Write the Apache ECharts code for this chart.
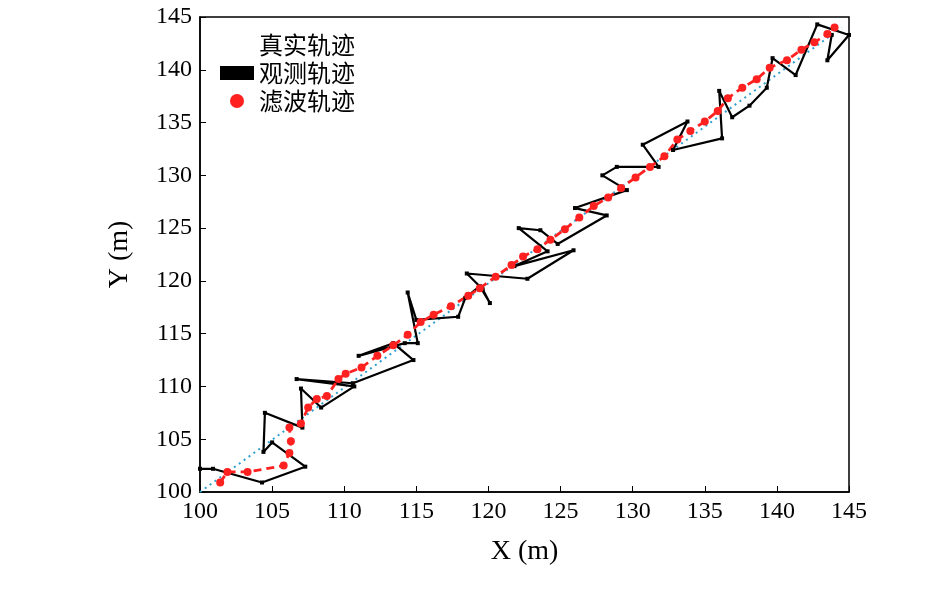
<!DOCTYPE html>
<html>
<head>
<meta charset="utf-8">
<script src="https://cdn.jsdelivr.net/npm/echarts@6/dist/echarts.min.js"></script>
<style>html,body{margin:0;padding:0;background:#fff}#chart{width:945px;height:604px}</style>
</head>
<body>
<div id="chart"></div>
<script>
const truePath = [[100, 100], [144.5, 144]]

const observedPath = [
  [100, 102.2], [100.9, 102.2], [104.3, 100.9], [107.3, 102.4], [105, 104.7],
  [104.4, 103.8], [104.5, 107.5], [107.1, 106.1], [107, 109.8], [108.4, 108.0],
  [110.7, 110.0], [106.7, 110.7], [110.6, 110.3], [114.8, 112.5], [113.4, 114.1],
  [111, 112.9], [114.2, 114.1], [115.1, 114.1], [114.4, 118.9], [115.0, 116.3],
  [117.9, 116.6], [118.4, 118.4], [119.4, 119.5], [120.1, 117.9], [119.6, 119.2],
  [118.5, 120.7], [122.7, 120.2], [125.9, 122.9], [121.8, 121.4], [124.1, 122.8],
  [122.1, 125.0], [123.6, 124.8], [124.8, 123.5], [128.2, 126.2], [126, 126.9],
  [129.6, 128.6], [127.9, 130.0], [128.9, 130.8], [131.8, 130.8], [130.7, 132.9],
  [133.8, 135.1], [132.8, 132.4], [136.2, 133.5], [136.0, 138.0], [136.9, 135.5],
  [138.1, 136.6], [139.3, 138.3], [139.7, 141.1], [141.3, 139.5], [142.8, 144.3],
  [145, 143.3], [143.5, 140.9], [143.8, 143.3]
]

const filteredPath = [
  [101.4, 100.9], [101.9, 101.9], [103.3, 101.9], [105.8, 102.5], [106.2, 103.7],
  [106.3, 104.8], [106.2, 106.1], [107, 106.5], [107.5, 108], [108.1, 108.8],
  [108.8, 109.1], [109.6, 110.7], [110.1, 111.2], [111.2, 111.8], [112.3, 112.9],
  [113.4, 113.9], [114.4, 114.9], [115.3, 116.1], [116.2, 116.8], [117.4, 117.6],
  [118.6, 118.6], [119.4, 119.3], [120.5, 120.4], [121.6, 121.5], [122.4, 122.3],
  [123.4, 123.0], [124.3, 123.9], [125.3, 124.9], [126.3, 126.0], [127.3, 127.1],
  [128.3, 127.9], [129.2, 128.8], [130.2, 129.8], [131.2, 130.8], [132.2, 131.8],
  [133.1, 133.4], [134.0, 134.2], [135.0, 135.1], [135.9, 136.1], [136.6, 137.3],
  [137.6, 138.3], [138.6, 139.1], [139.5, 140.2], [140.7, 140.9], [141.7, 141.9],
  [142.6, 142.6], [143.5, 143.4], [144.0, 144.0]
]

const chart = echarts.init(document.getElementById('chart'))
const serif = 'Liberation Serif'
const axisCommon = {
  min: 100,
  max: 145,
  interval: 5,
  axisLine: { lineStyle: { color: '#000', width: 1.5 } },
  axisTick: { inside: true, length: 6, lineStyle: { color: '#000' } },
  splitLine: { show: false },
  axisLabel: { color: '#000', fontFamily: serif, fontSize: 24 },
  nameTextStyle: { color: '#000', fontFamily: serif, fontSize: 28 },
  nameLocation: 'middle',
}

chart.setOption({
  animation: false,
  grid: { left: 200, right: 96, top: 17, bottom: 112, show: true, borderColor: '#000', borderWidth: 1.5 },
  legend: {
    left: 215,
    top: 28,
    orient: 'vertical',
    itemGap: 4,
    itemWidth: 34,
    data: [
      { name: '真实轨迹', icon: 'none' },
      { name: '观测轨迹', icon: 'rect', itemStyle: { borderWidth: 0 } },
      { name: '滤波轨迹', icon: 'circle' },
    ],
    textStyle: { fontFamily: 'Noto Sans CJK SC', fontSize: 24, color: '#000' },
  },
  xAxis: { ...axisCommon, type: 'value', name: 'X (m)', nameGap: 46 },
  yAxis: { ...axisCommon, type: 'value', name: 'Y (m)', nameGap: 66 },
  series: [
    {
      name: '真实轨迹', type: 'line', data: truePath, symbol: 'none',
      lineStyle: { color: '#2f9fd0', width: 2, type: [2, 4] },
      itemStyle: { color: '#2f9fd0' },
    },
    {
      name: '观测轨迹', type: 'line', data: observedPath, symbol: 'rect', symbolSize: 4,
      lineStyle: { color: '#000', width: 2.2 }, itemStyle: { color: '#000' },
    },
    {
      name: '滤波轨迹', type: 'line', data: filteredPath, symbol: 'circle', symbolSize: 8,
      lineStyle: { color: '#ff2020', width: 2.8, type: [8, 5] }, itemStyle: { color: '#ff2020' },
    },
  ],
})
</script>
</body>
</html>
